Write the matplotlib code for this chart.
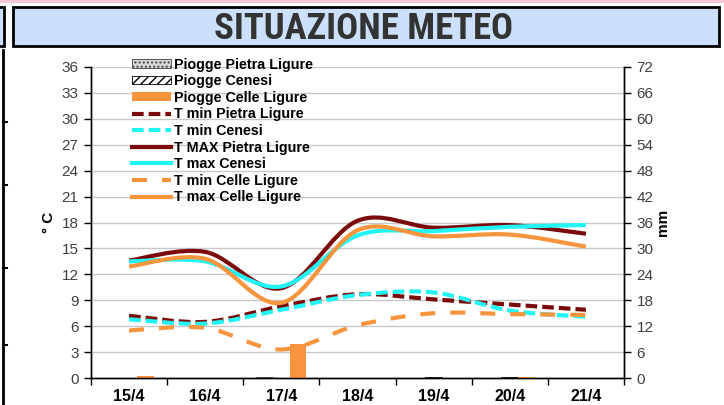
import matplotlib
matplotlib.use("Agg")
import matplotlib.pyplot as plt
from matplotlib.path import Path
from matplotlib.patches import PathPatch, Rectangle, Patch
from matplotlib.lines import Line2D
import numpy as np

days = ["15/4", "16/4", "17/4", "18/4", "19/4", "20/4", "21/4"]

# rain (mm)
rain_pietra = [0.0, 0.0, 0.2, 0.0, 0.0, 0.0, 0.0]
rain_cenesi = [0.0, 0.0, 0.0, 0.0, 0.2, 0.2, 0.0]
rain_celle = [0.5, 0.0, 7.9, 0.0, 0.0, 0.2, 0.0]

# temperatures (C)
tmin_pietra = [7.2, 6.5, 8.3, 9.7, 9.1, 8.5, 7.9]
tmin_cenesi = [6.8, 6.3, 7.9, 9.6, 9.9, 7.8, 7.1]
tmax_pietra = [13.6, 14.6, 10.4, 18.2, 17.4, 17.7, 16.7]
tmax_cenesi = [13.5, 13.5, 10.6, 16.5, 17.0, 17.5, 17.7]
tmin_celle = [5.5, 5.8, 3.3, 6.1, 7.5, 7.4, 7.3]
tmax_celle = [12.9, 13.8, 8.7, 17.1, 16.4, 16.6, 15.2]

DARKRED = "#7b0a0a"
CYAN = "#22f4f4"
ORANGE = "#f7953f"
SHORT_DASH = (0, (2.8, 1.2))
LONG_DASH = (0, (3.6, 3.6))


def smooth_path(x, y):
    # excel-like smoothed line: catmull-rom segments as cubic bezier
    pts = np.column_stack([x, y]).astype(float)
    ext = np.vstack([pts[0], pts, pts[-1]])
    verts = [pts[0]]
    codes = [Path.MOVETO]
    for i in range(len(pts) - 1):
        p0, p1, p2, p3 = ext[i], ext[i + 1], ext[i + 2], ext[i + 3]
        verts += [p1 + (p2 - p0) / 6.0, p2 - (p3 - p1) / 6.0, p2]
        codes += [Path.CURVE4] * 3
    return Path(verts, codes)


fig = plt.figure(figsize=(7.24, 4.05), dpi=100)
plt.rcParams["font.family"] = ["Liberation Sans", "DejaVu Sans"]

# page decorations
fig.patches.append(Rectangle((0, 1 - 3 / 405), 1, 3 / 405, transform=fig.transFigure,
                             facecolor="#f6c6da", edgecolor="none"))
fig.patches.append(Rectangle((13 / 724, 1 - 46 / 405), 706 / 724, 39 / 405, transform=fig.transFigure,
                             facecolor="#cde0fb", edgecolor="black", linewidth=2))
fig.patches.append(Rectangle((-5 / 724, 1 - 46 / 405), 9 / 724, 39 / 405, transform=fig.transFigure,
                             facecolor="#cde0fb", edgecolor="black", linewidth=2))
fig.lines.append(Line2D([3 / 724, 3 / 724], [0, 1 - 50 / 405], transform=fig.transFigure,
                        color="black", linewidth=2))
for yy in [122, 185, 268, 345]:
    fig.lines.append(Line2D([3 / 724, 7 / 724], [1 - yy / 405, 1 - yy / 405], transform=fig.transFigure,
                            color="black", linewidth=1.5))
fig.text(0.502, 1 - 39 / 405, "SITUAZIONE METEO", ha="center", va="baseline", fontsize=26.5,
         fontweight="bold", color="#333333",
         family=["Liberation Sans Narrow", "Roboto Condensed", "Asap Condensed", "DejaVu Sans"])

ax = fig.add_axes([91 / 724, 1 - 378 / 405, 533 / 724, 311 / 405])
ax2 = ax.twinx()

x = np.arange(len(days))

# temperature lines
series = [
    (tmin_pietra, DARKRED, SHORT_DASH),
    (tmin_cenesi, CYAN, SHORT_DASH),
    (tmax_pietra, DARKRED, "-"),
    (tmax_cenesi, CYAN, "-"),
    (tmin_celle, ORANGE, LONG_DASH),
    (tmax_celle, ORANGE, "-"),
]
for vals, col, ls in series:
    patch = PathPatch(smooth_path(x, vals), fill=False, edgecolor=col, linewidth=3.0,
                      linestyle=ls, capstyle="butt")
    ax.add_patch(patch)

# rain bars
w = 0.22
ax2.bar(x - w, rain_pietra, w, color="#d9d9d9", edgecolor="#404040", hatch="....", linewidth=0.6)
ax2.bar(x, rain_cenesi, w, color="white", edgecolor="black", hatch="////", linewidth=0.6)
ax2.bar(x + w, rain_celle, w, color=ORANGE, edgecolor="none")

ax.set_xlim(-0.5, 6.5)
ax.set_ylim(0, 36)
ax2.set_ylim(0, 72)
ax.set_yticks(np.arange(0, 37, 3))
ax2.set_yticks(np.arange(0, 73, 6))
ax.set_xticks(x)
ax.set_xticklabels(days, fontsize=11.5, fontweight="bold")
ax.set_xticks(np.arange(-0.5, 7, 1), minor=True)
ax.tick_params(axis="x", which="major", length=0, pad=8)
ax.tick_params(axis="x", which="minor", length=5, direction="out", width=1)
ax.tick_params(axis="y", length=5, width=1, labelsize=11, labelcolor="#404040", pad=4)
ax2.tick_params(axis="y", length=5, width=1, labelsize=11, labelcolor="#404040", pad=4)
ax.grid(axis="y", color="#c8c8c8", linewidth=1)
ax.set_axisbelow(True)

for a in (ax, ax2):
    a.spines["top"].set_visible(False)
    for s in ("left", "right", "bottom"):
        a.spines[s].set_linewidth(1)

ax.set_ylabel("° C", fontsize=11, fontweight="bold", labelpad=4)
ax2.set_ylabel("mm", fontsize=11, fontweight="bold", labelpad=2)

handles = [
    Patch(facecolor="#d9d9d9", edgecolor="#404040", hatch="....", linewidth=0.6),
    Patch(facecolor="white", edgecolor="black", hatch="////", linewidth=0.6),
    Patch(facecolor=ORANGE, edgecolor="none"),
    Line2D([], [], color=DARKRED, lw=3, ls=SHORT_DASH),
    Line2D([], [], color=CYAN, lw=3, ls=SHORT_DASH),
    Line2D([], [], color=DARKRED, lw=3),
    Line2D([], [], color=CYAN, lw=3),
    Line2D([], [], color=ORANGE, lw=3, ls=LONG_DASH),
    Line2D([], [], color=ORANGE, lw=3),
]
labels = ["Piogge Pietra Ligure", "Piogge Cenesi", "Piogge Celle Ligure",
          "T min Pietra Ligure", "T min Cenesi", "T MAX Pietra Ligure",
          "T max Cenesi", "T min Celle Ligure", "T max Celle Ligure"]
leg = ax2.legend(handles, labels, loc="upper left", bbox_to_anchor=(0.077, 1.03), frameon=False,
                 prop={"size": 10.3, "weight": "bold"}, labelspacing=0.18, handlelength=2.7,
                 handleheight=0.55, handletextpad=0.2, borderpad=0, borderaxespad=0)

fig.savefig("out.png", dpi=100)
